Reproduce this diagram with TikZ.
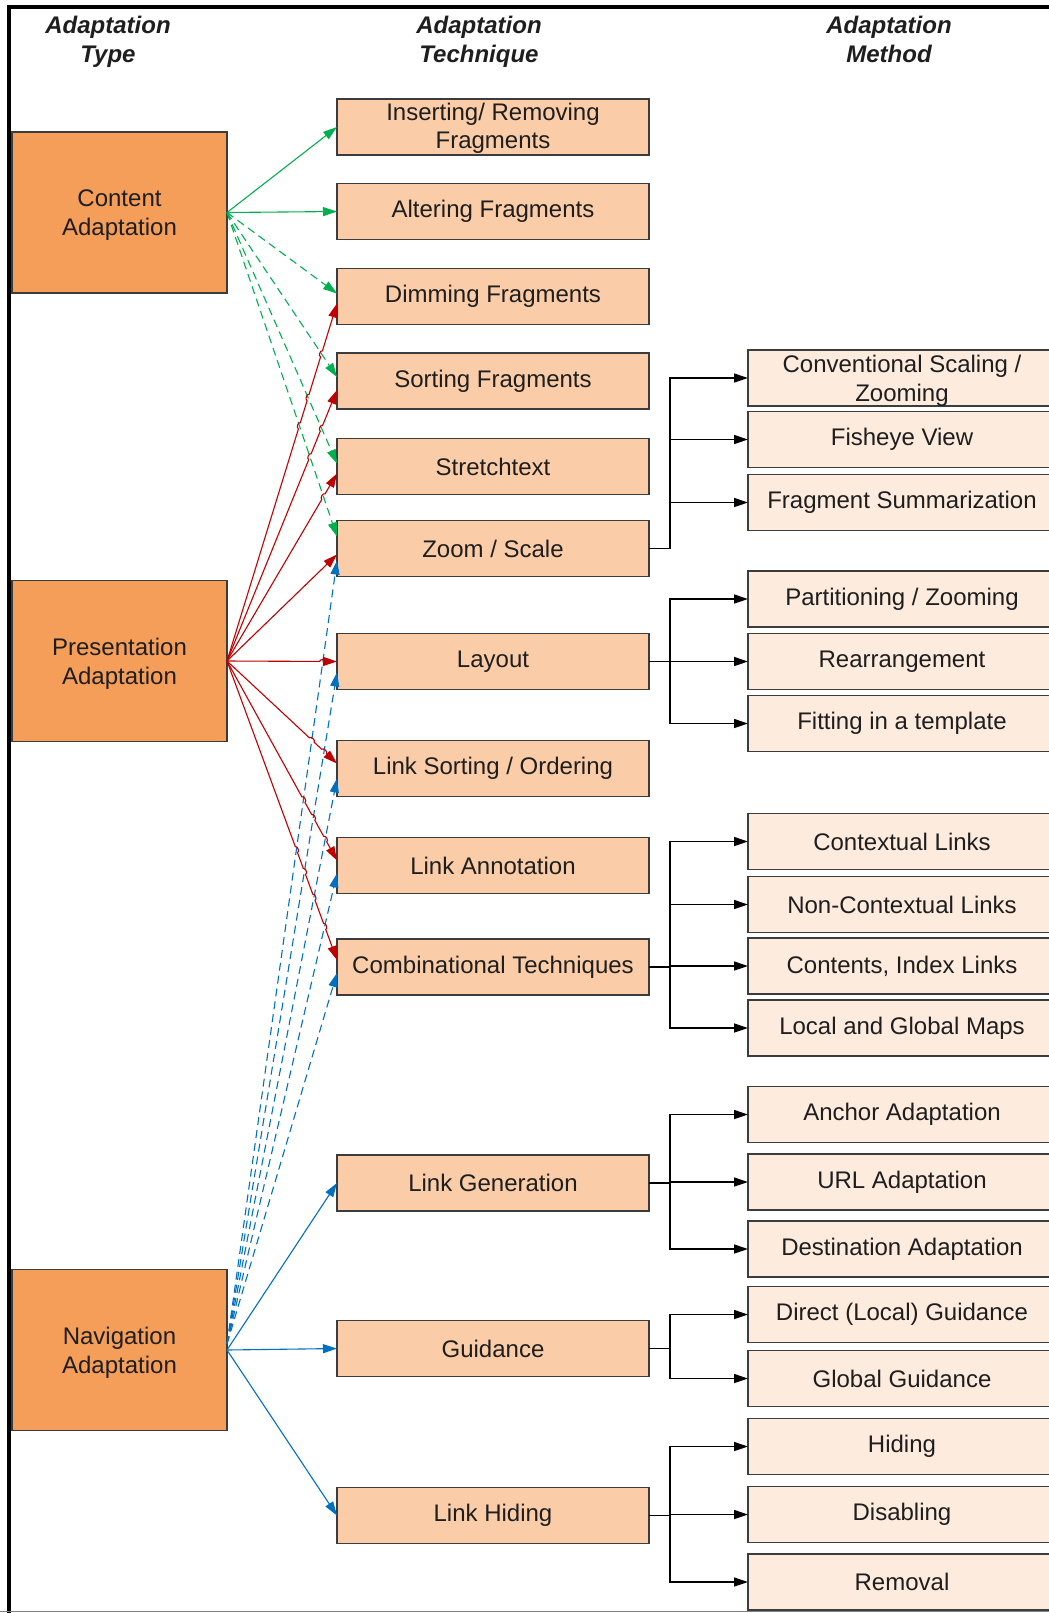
\documentclass[tikz,border=0pt]{standalone}
\usepackage{fontspec}
\setmainfont{Liberation Sans}
\usetikzlibrary{arrows.meta,intersections,calc}

\definecolor{typefill}{RGB}{245,158,90}
\definecolor{techfill}{RGB}{250,205,168}
\definecolor{methfill}{RGB}{253,235,222}
\definecolor{boxline}{RGB}{60,60,60}
\definecolor{txt}{RGB}{30,30,30}
\definecolor{cgreen}{RGB}{0,176,80}
\definecolor{cred}{RGB}{192,0,0}
\definecolor{cblue}{RGB}{0,112,192}

\tikzset{
  base/.style={draw=boxline, line width=0.7pt, inner sep=0pt, outer sep=0pt,
    text=txt, align=center, font=\fontsize{12}{14.4}\selectfont},
  twoline/.style={text depth=0pt},
  typebox/.style={base, twoline, fill=typefill, minimum width=107.5pt, minimum height=80.5pt},
  techbox/.style={base, fill=techfill, minimum width=156pt, minimum height=28pt},
  methbox/.style={base, fill=methfill, minimum width=154pt, minimum height=28pt},
  header/.style={anchor=north, align=center, text=txt, font=\fontsize{12}{14.4}\selectfont\bfseries\itshape},
  garrow/.style={draw=cgreen, line width=0.55pt, -{Triangle[length=7pt,width=4.5pt]}},
  rarrow/.style={draw=cred, line width=0.55pt, -{Triangle[length=7pt,width=4.5pt]}},
  barrow/.style={draw=cblue, line width=0.55pt, -{Triangle[length=7pt,width=4.5pt]}},
  dashedlink/.style={dash pattern=on 4pt off 2.5pt},
  conn/.style={draw=black, line width=0.7pt, -{Triangle[length=7pt,width=4.5pt]}},
}

% red link that jumps over every dashed link it crosses
\newcommand\hoplink[3]{%
  \path[name path=#1] (#2) -- (#3);
  \path[name intersections={of=#1 and hopover, total=\t}] \pgfextra{\xdef\hopcount{\t}};
  \ifnum\hopcount>0
    \draw[rarrow, name intersections={of=#1 and hopover, sort by=#1, total=\t}]
      (#2) \foreach \k in {1,...,\t} {
        -- ($(intersection-\k)!1.6pt!(#2)$)
        to[bend left=90] ($(intersection-\k)!1.6pt!(#3)$) } -- (#3);
  \else
    \draw[rarrow] (#2) -- (#3);
  \fi
}

\begin{document}
\begin{tikzpicture}[x=0.5pt,y=-0.5pt]
\useasboundingbox (0,0) rectangle (1049,1613);
\clip (0,0) rectangle (1049,1613);
\fill[white] (0,0) rectangle (1049,1613);

% headers
\node[header] (h1) at (108,9.2) {Adaptation\\Type};
\node[header] (h2) at (479,9.2) {Adaptation\\Technique};
\node[header] (h3) at (889,9.2) {Adaptation\\Method};

% adaptation types
\node[typebox] (content) at (119.5,212.5) {Content\\Adaptation};
\node[typebox] (present) at (119.5,661) {Presentation\\Adaptation};
\node[typebox] (navig)   at (119.5,1350) {Navigation\\Adaptation};

% adaptation techniques
\node[techbox,text depth=1.2pt] (t1) at (493,127) {Inserting/ Removing\\Fragments};
\node[techbox] (t2)  at (493,211.5)  {Altering Fragments};
\node[techbox] (t3)  at (493,296.5)  {Dimming Fragments};
\node[techbox] (t4)  at (493,381)    {Sorting Fragments};
\node[techbox] (t5)  at (493,466.5)  {Stretchtext};
\node[techbox] (t6)  at (493,548.5)  {Zoom / Scale};
\node[techbox] (t7)  at (493,661.5)  {Layout};
\node[techbox] (t8)  at (493,768.5)  {Link Sorting / Ordering};
\node[techbox] (t9)  at (493,865.5)  {Link Annotation};
\node[techbox] (t10) at (493,967)    {Combinational Techniques};
\node[techbox] (t11) at (493,1183)   {Link Generation};
\node[techbox] (t12) at (493,1348.5) {Guidance};
\node[techbox] (t13) at (493,1515.5) {Link Hiding};

% adaptation methods
\node[methbox,twoline] (m1) at (902,378) {Conventional Scaling /\\Zooming};
\node[methbox] (m2)  at (902,439.5)  {Fisheye View};
\node[methbox] (m3)  at (902,502.5)  {Fragment Summarization};
\node[methbox] (m4)  at (902,599)    {Partitioning / Zooming};
\node[methbox] (m5)  at (902,661.5)  {Rearrangement};
\node[methbox] (m6)  at (902,723.5)  {Fitting in a template};
\node[methbox] (m7)  at (902,841.5)  {Contextual Links};
\node[methbox] (m8)  at (902,904.5)  {Non-Contextual Links};
\node[methbox] (m9)  at (902,966)    {Contents, Index Links};
\node[methbox] (m10) at (902,1028)   {Local and Global Maps};
\node[methbox] (m11) at (902,1114.5) {Anchor Adaptation};
\node[methbox] (m12) at (902,1182)   {URL Adaptation};
\node[methbox] (m13) at (902,1249)   {Destination Adaptation};
\node[methbox] (m14) at (902,1314.5) {Direct (Local) Guidance};
\node[methbox] (m15) at (902,1378.5) {Global Guidance};
\node[methbox] (m16) at (902,1446.5) {Hiding};
\node[methbox] (m17) at (902,1514.5) {Disabling};
\node[methbox] (m18) at (902,1582)   {Removal};

% technique -> method branches
\coordinate (b6)  at (670,548.5);
\coordinate (b7)  at (670,661.5);
\coordinate (b10) at (670,967);
\coordinate (b11) at (670,1183);
\coordinate (b12) at (670,1348.5);
\coordinate (b13) at (670,1515.5);
\draw[line width=0.7pt] (t6.east) -- (b6);
\draw[conn] (b6) |- (m1.west);
\draw[conn] (b6) |- (m2.west);
\draw[conn] (b6) |- (m3.west);
\draw[conn] (t7.east) -- (m5.west);
\draw[conn] (b7) |- (m4.west);
\draw[conn] (b7) |- (m6.west);
\draw[line width=0.7pt] (t10.east) -- (b10);
\draw[conn] (b10) |- (m7.west);
\draw[conn] (b10) |- (m8.west);
\draw[conn] (b10) |- (m9.west);
\draw[conn] (b10) |- (m10.west);
\draw[line width=0.7pt] (t11.east) -- (b11);
\draw[conn] (b11) |- (m11.west);
\draw[conn] (b11) |- (m12.west);
\draw[conn] (b11) |- (m13.west);
\draw[line width=0.7pt] (t12.east) -- (b12);
\draw[conn] (b12) |- (m14.west);
\draw[conn] (b12) |- (m15.west);
\draw[line width=0.7pt] (t13.east) -- (b13);
\draw[conn] (b13) |- (m16.west);
\draw[conn] (b13) |- (m17.west);
\draw[conn] (b13) |- (m18.west);

% link end points
\coordinate (nstart) at ([yshift=3pt]navig.east);
\coordinate (g3) at ([yshift=1.5pt]t3.west);
\coordinate (g4) at ([yshift=2pt]t4.west);
\coordinate (g5) at ([yshift=1.5pt]t5.west);
\coordinate (g6) at ([yshift=6pt]t6.west);
\coordinate (u6) at ([yshift=-6pt]t6.west);
\coordinate (u7) at ([yshift=-5.5pt]t7.west);
\coordinate (u8) at ([yshift=-5pt]t8.west);
\coordinate (u9) at ([yshift=-4pt]t9.west);
\coordinate (u10) at ([yshift=-3pt]t10.west);
\coordinate (r3) at ([yshift=-3.5pt]t3.west);
\coordinate (r4) at ([yshift=-4.5pt]t4.west);
\coordinate (r5) at ([yshift=-3.5pt]t5.west);
\coordinate (r6) at ([yshift=-3pt]t6.west);
\coordinate (r7) at (t7.west);
\coordinate (r8) at ([yshift=2.5pt]t8.west);
\coordinate (r9) at ([yshift=2.5pt]t9.west);
\coordinate (r10) at ([yshift=3.5pt]t10.west);

% content adaptation links
\draw[garrow] (content.east) -- (t1.west);
\draw[garrow] (content.east) -- (t2.west);
\draw[garrow,dashedlink] (content.east) -- (g3);
\draw[garrow,dashedlink] (content.east) -- (g4);
\draw[garrow,dashedlink] (content.east) -- (g5);
\draw[garrow,dashedlink] (content.east) -- (g6);

% navigation adaptation links
\draw[barrow,dashedlink] (nstart) -- (u6);
\draw[barrow,dashedlink] (nstart) -- (u7);
\draw[barrow,dashedlink] (nstart) -- (u8);
\draw[barrow,dashedlink] (nstart) -- (u9);
\draw[barrow,dashedlink] (nstart) -- (u10);
\draw[barrow] (navig.east) -- (t11.west);
\draw[barrow] (navig.east) -- (t12.west);
\draw[barrow] (navig.east) -- (t13.west);

% dashed links that the presentation links jump over
\path[name path=hopover]
  (content.east) -- (g3) (content.east) -- (g4)
  (content.east) -- (g5) (content.east) -- (g6)
  (nstart) -- (u6) (nstart) -- (u7) (nstart) -- (u8)
  (nstart) -- (u9) (nstart) -- (u10);

% presentation adaptation links
\hoplink{p3}{present.east}{r3}
\hoplink{p4}{present.east}{r4}
\hoplink{p5}{present.east}{r5}
\hoplink{p6}{present.east}{r6}
\hoplink{p7}{present.east}{r7}
\hoplink{p8}{present.east}{r8}
\hoplink{p9}{present.east}{r9}
\hoplink{p10}{present.east}{r10}

% frame
\draw[black, line width=2pt] (9,1613) -- (9,7) -- (1049,7);
\draw[gray, line width=0.6pt] (0,1611.5) -- (1049,1611.5);
\end{tikzpicture}
\end{document}
